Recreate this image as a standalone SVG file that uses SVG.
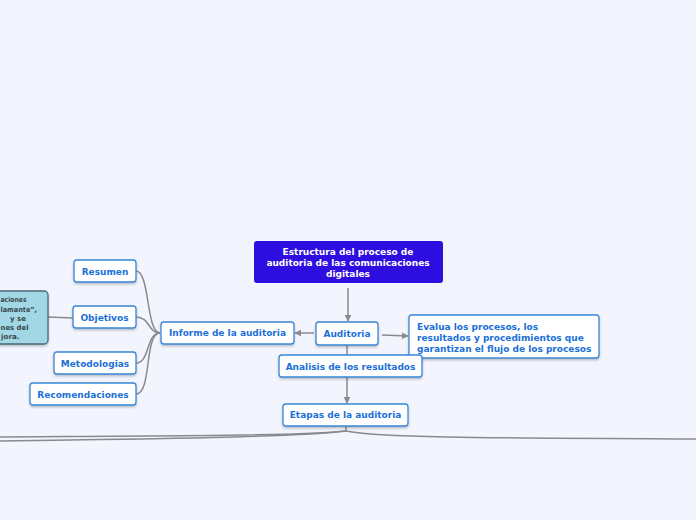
<svg xmlns="http://www.w3.org/2000/svg" width="696" height="520" viewBox="0 0 696 520">
<defs>
<style>
.n{fill:#fff;stroke:#3a86d6;stroke-width:1.3}
.t{font-family:"DejaVu Sans",sans-serif;font-weight:bold;font-size:9px;fill:#1a70d8}
.c{fill:none;stroke:#8a8a8e;stroke-width:1.5}
.nt{font-family:"DejaVu Sans",sans-serif;font-weight:bold;font-size:7px;fill:#37474f}
</style>
<marker id="a" viewBox="0 0 10 10" refX="9" refY="5" markerWidth="4.5" markerHeight="4.5" orient="auto"><path d="M0,0 L10,5 L0,10 z" fill="#8a8a8e"/></marker>
<filter id="s" x="-10%" y="-10%" width="120%" height="140%"><feDropShadow dx="0" dy="1.5" stdDeviation="0.8" flood-color="#000" flood-opacity="0.25"/></filter>
</defs>
<rect width="696" height="520" fill="#f2f5fe"/>
<g id="connectors">
<path class="c" d="M348,288 L348,321" marker-end="url(#a)"/>
<path class="c" d="M314,333 L295,333" marker-end="url(#a)"/>
<path class="c" d="M382,335 L408,336" marker-end="url(#a)"/>
<path class="c" d="M347,345 L347,403" marker-end="url(#a)"/>
<path class="c" d="M136,271 C150,271 146,333 160,333"/>
<path class="c" d="M136,317 C150,317 148,333 160,333"/>
<path class="c" d="M136,363 C150,363 146,333 160,333"/>
<path class="c" d="M136,394 C152,394 144,333 160,333"/>
<path class="c" d="M73,318 L48,317"/>
<path class="c" d="M346,426 L346,431 C300,436 150,436 0,437"/>
<path class="c" d="M346,431 C300,437 150,439 0,441"/>
<path class="c" stroke-width="2.5" d="M346,431 C380,438 500,438 696,439"/>
</g>
<g id="root">
<rect x="254" y="241" width="189" height="42" rx="3" fill="#2e0de0"/>
<text class="t" style="fill:#fff" text-anchor="middle"><tspan x="348" y="255">Estructura del proceso de</tspan><tspan x="348" y="266">auditoria de las comunicaciones</tspan><tspan x="348" y="277">digitales</tspan></text>
</g>
<g id="auditoria">
<rect class="n" x="316" y="322" width="62" height="23" rx="3" filter="url(#s)"/>
<text class="t" x="347" y="337" text-anchor="middle">Auditoria</text>
</g>
<g id="informe">
<rect class="n" x="161" y="322" width="133" height="22" rx="3" filter="url(#s)"/>
<text class="t" x="227.5" y="336" text-anchor="middle">Informe de la auditoria</text>
</g>
<g id="evalua">
<rect class="n" x="409" y="315" width="190" height="43" rx="3" filter="url(#s)"/>
<text class="t"><tspan x="417" y="330">Evalua los procesos, los</tspan><tspan x="417" y="341">resultados y procedimientos que</tspan><tspan x="417" y="352">garantizan el flujo de los procesos</tspan></text>
</g>
<g id="analisis">
<rect class="n" x="279" y="355" width="143" height="22" rx="3" filter="url(#s)"/>
<text class="t" x="350.5" y="369.5" text-anchor="middle">Analisis de los resultados</text>
</g>
<g id="etapas">
<rect class="n" x="283" y="404" width="125" height="22" rx="3" filter="url(#s)"/>
<text class="t" x="345.5" y="418" text-anchor="middle">Etapas de la auditoria</text>
</g>
<g id="resumen">
<rect class="n" x="74" y="260" width="62" height="22" rx="3" filter="url(#s)"/>
<text class="t" x="105" y="274.5" text-anchor="middle">Resumen</text>
</g>
<g id="objetivos">
<rect class="n" x="73" y="306" width="63" height="22" rx="3" filter="url(#s)"/>
<text class="t" x="104.5" y="320.5" text-anchor="middle">Objetivos</text>
</g>
<g id="metodologias">
<rect class="n" x="54" y="352" width="82" height="22" rx="3" filter="url(#s)"/>
<text class="t" x="95" y="366.5" text-anchor="middle">Metodologias</text>
</g>
<g id="recomendaciones">
<rect class="n" x="30" y="383" width="106" height="22" rx="3" filter="url(#s)"/>
<text class="t" x="83" y="397.5" text-anchor="middle">Recomendaciones</text>
</g>
<g id="nota">
<rect x="-80" y="291" width="128" height="53" rx="4" fill="#a2d8e5" stroke="#4a6775" stroke-width="1.3" filter="url(#s)"/>
<text class="nt" x="0.5" y="302" textLength="26" lengthAdjust="spacingAndGlyphs">aciones</text>
<text class="nt" x="0.5" y="312" textLength="36.5" lengthAdjust="spacingAndGlyphs">lamante”,</text>
<text class="nt" x="26" y="321" text-anchor="end">y se</text>
<text class="nt" x="0.5" y="330" textLength="28" lengthAdjust="spacingAndGlyphs">nes del</text>
<text class="nt" x="1" y="339" textLength="18.5" lengthAdjust="spacingAndGlyphs">jora.</text>
</g>
</svg>
